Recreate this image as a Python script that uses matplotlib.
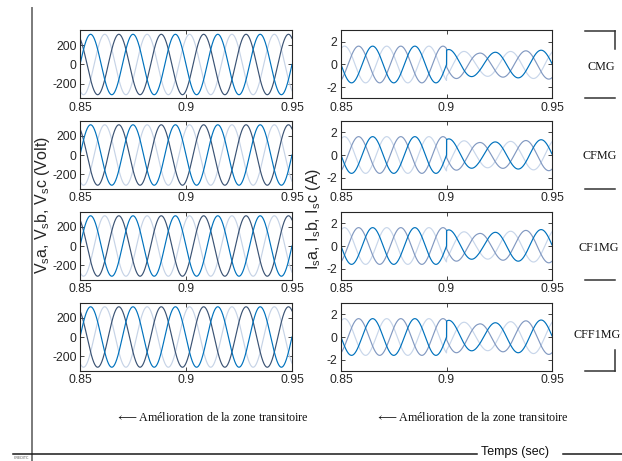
import numpy as np
import matplotlib
matplotlib.use("Agg")
import matplotlib.pyplot as plt
from matplotlib.lines import Line2D

# ---------------- data ----------------
panel_names = ["CMG", "CFMG", "CF1MG", "CFF1MG"]
x_limits = [0.85, 0.95]
x_ticks = [0.85, 0.9, 0.95]
x_ticklabels = ["0.85", "0.9", "0.95"]

v_ylim = [-350, 350]
v_ticks = [-200, 0, 200]
v_ticklabels = ["-200", "0", "200"]
i_ylim = [-3, 3]
i_ticks = [-2, 0, 2]
i_ticklabels = ["-2", "0", "2"]

# source voltages (same in all four cases): amplitude, frequency, phase shift per phase
v_amplitude = 311.0
v_frequency = 50.0
v_phase_deg = [0.0, 120.0, -120.0]          # a (blue), b (dark), c (light)

# source currents before the switching instant
i_amp_pre = 1.62
i_freq_pre = 50.0
i_peak_phase_pre_deg = [270.0, 150.0, 30.0]  # a (blue), b (medium), c (light)
t_switch = 0.9

# source currents after the switching instant
i_freq_post = 46.0
i_first_peak_post = 0.9013
i_peak_phase_post_deg = [0.0, 240.0, 120.0]  # a, b, c
env_times = [0.90, 0.915, 0.93, 0.95]
env_amplitudes = {
    "CMG":    [1.35, 1.00, 1.15, 1.30],
    "CFMG":   [1.45, 1.10, 1.20, 1.40],
    "CF1MG":  [1.45, 1.10, 1.30, 1.50],
    "CFF1MG": [1.50, 1.15, 1.35, 1.55],
}

v_colors = ["#0072BD", "#3B5374", "#C6D3E6"]
i_colors = ["#0072BD", "#8299C1", "#C8D6EA"]

# ---------------- figure ----------------
W, H = 622, 461
plt.rcParams["font.family"] = ["Liberation Sans", "DejaVu Sans"]
plt.rcParams["axes.unicode_minus"] = False
plt.rcParams["mathtext.default"] = "regular"
plt.rcParams["mathtext.fontset"] = "cm"

fig = plt.figure(figsize=(W / 100, H / 100), dpi=100)
fig.patch.set_facecolor("white")


def fx(x):
    return x / W


def fy(y):
    return 1 - y / H


left_x0, left_w = 80, 212
right_x0, right_w = 341, 211
row_tops = [30.5, 121, 212, 303]
row_h = 68

t = np.linspace(x_limits[0], x_limits[1], 4001)


def style_axes(ax, ylim, yt, ytl):
    ax.set_xlim(x_limits)
    ax.set_ylim(ylim)
    ax.set_xticks(x_ticks)
    ax.set_xticklabels(x_ticklabels)
    ax.set_yticks(yt)
    ax.set_yticklabels(ytl)
    ax.tick_params(direction="in", length=3, width=0.6, top=True, right=True,
                   labelsize=8.7, colors="#262626", pad=2.5)
    for s in ax.spines.values():
        s.set_color("#262626")
        s.set_linewidth(0.8)


for r, name in enumerate(panel_names):
    top = row_tops[r]
    # voltages
    axv = fig.add_axes([fx(left_x0), fy(top + row_h), left_w / W, row_h / H])
    theta = 2 * np.pi * v_frequency * (t - x_limits[0])
    for k in [2, 1, 0]:
        axv.plot(t, v_amplitude * np.sin(theta + np.deg2rad(v_phase_deg[k])),
                 color=v_colors[k], lw=0.85)
    style_axes(axv, v_ylim, v_ticks, v_ticklabels)

    # currents
    axi = fig.add_axes([fx(right_x0), fy(top + row_h), right_w / W, row_h / H])
    env = np.interp(t, env_times, env_amplitudes[name])
    th_pre = 2 * np.pi * i_freq_pre * (t - x_limits[0])
    th_post = 2 * np.pi * i_freq_post * (t - i_first_peak_post)
    for k in [2, 1, 0]:
        pre = i_amp_pre * np.cos(th_pre - np.deg2rad(i_peak_phase_pre_deg[k]))
        post = env * np.cos(th_post - np.deg2rad(i_peak_phase_post_deg[k]))
        y = np.where(t < t_switch, pre, post)
        axi.plot(t, y, color=i_colors[k], lw=0.85)
    style_axes(axi, i_ylim, i_ticks, i_ticklabels)

# axis titles
fig.text(fx(42), fy(205), r"V$_s$a, V$_s$b, V$_s$c (Volt)", rotation=90,
         ha="center", va="center", fontsize=11.5, color="#262626")
fig.text(fx(314), fy(219), r"I$_s$a, I$_s$b, I$_s$c (A)", rotation=90,
         ha="center", va="center", fontsize=11.5, color="#262626")

# case names with brackets
serif = ["Liberation Serif", "DejaVu Serif"]
name_pos = [(601, 67), (600, 156), (599, 248), (597, 335)]
for (x, y), name in zip(name_pos, panel_names):
    fig.text(fx(x), fy(y), name, ha="center", va="center", fontsize=8.7,
             family=serif, color="#111111")

line_kw = dict(transform=fig.transFigure, color="#333333", lw=1.1)
segs = [
    ([585, 615], [31, 31]), ([615, 615], [31, 49]),
    ([585, 615], [98.5, 98.5]),
    ([585, 615], [189, 189]),
    ([585, 615], [280, 280]),
    ([615, 615], [350, 371]), ([585, 615], [371, 371]),
]
for xs, ys in segs:
    fig.add_artist(Line2D([fx(v) for v in xs], [fy(v) for v in ys], **line_kw))

# annotations
for x in (115, 375):
    fig.text(fx(x), fy(417), r"$\longleftarrow$" + "Amélioration de la zone transitoire",
             ha="left", va="center", fontsize=8.7, family=serif, color="#111111")

# frame lines and bottom label
fig.add_artist(Line2D([fx(32), fx(32)], [fy(8), fy(461)], transform=fig.transFigure,
                      color="#7a7a7a", lw=1.4))
fig.add_artist(Line2D([fx(13), fx(477)], [fy(454), fy(454)], transform=fig.transFigure,
                      color="#1a1a1a", lw=1.1))
fig.add_artist(Line2D([fx(563), fx(622)], [fy(454), fy(454)], transform=fig.transFigure,
                      color="#1a1a1a", lw=1.1))
fig.text(fx(515), fy(452), "Temps (sec)", ha="center", va="center", fontsize=9,
         color="#111111")
fig.text(fx(14), fy(458), "CREDITC", ha="left", va="center", fontsize=2.5,
         color="#555555")

fig.savefig("out.png", dpi=100, facecolor="white")
